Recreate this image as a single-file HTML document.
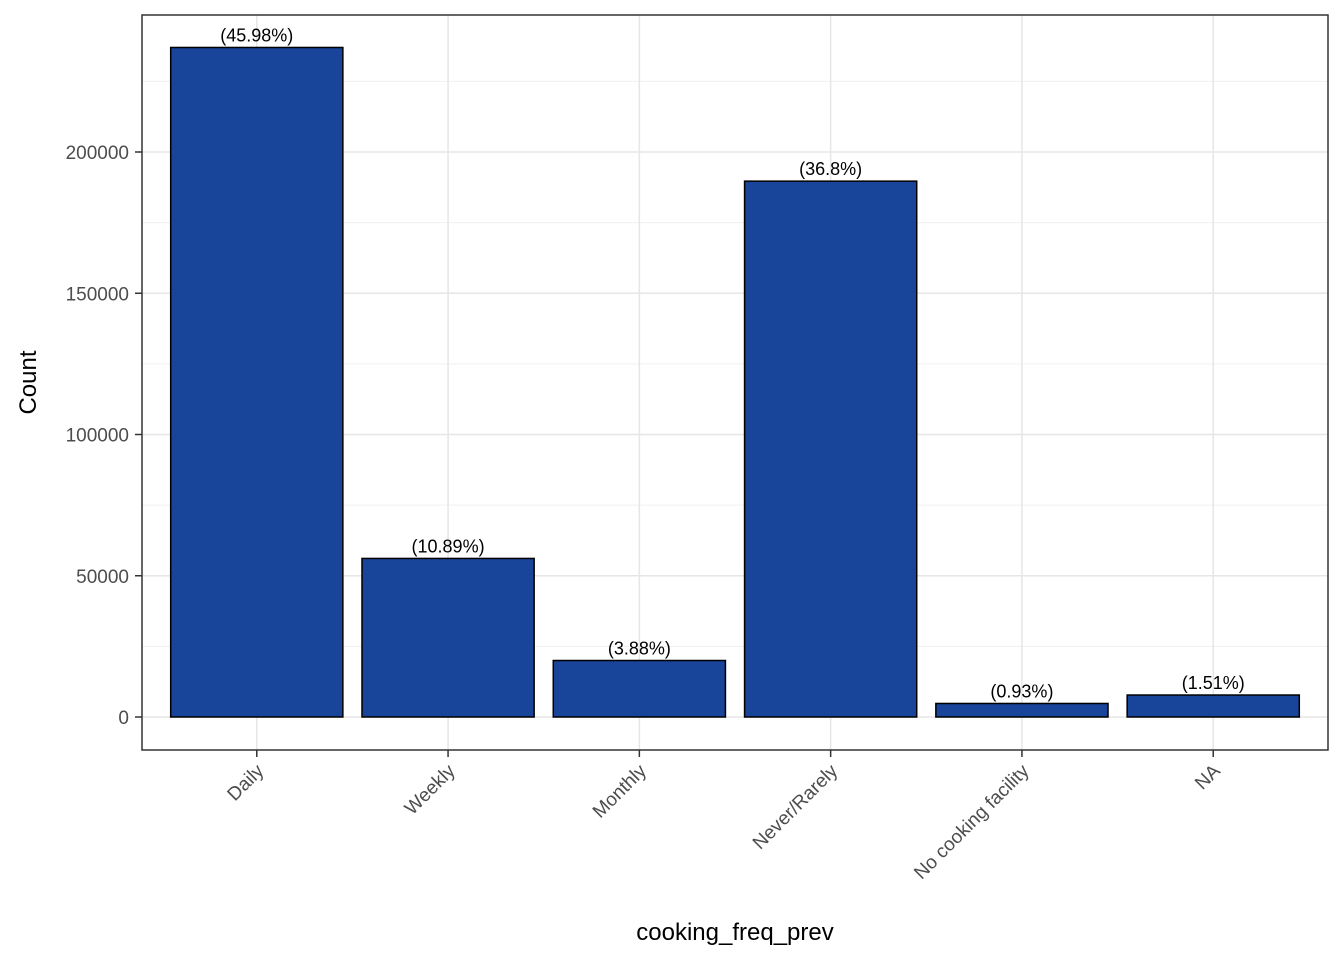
<!DOCTYPE html>
<html><head><meta charset="utf-8"><style>
body{margin:0;background:#fff;}
svg text{font-family:"Liberation Sans",Arial,sans-serif;}
</style></head><body>
<svg id="chart" width="1344" height="960" xmlns="http://www.w3.org/2000/svg"></svg>
<script>
const categories = ["Daily","Weekly","Monthly","Never/Rarely","No cooking facility","NA"];
const counts = [237000, 56130, 20000, 189680, 4790, 7780];
const pctLabels = ["(45.98%)","(10.89%)","(3.88%)","(36.8%)","(0.93%)","(1.51%)"];
const yTicks = [0, 50000, 100000, 150000, 200000];
const yMinor = [25000, 75000, 125000, 175000, 225000];

const NS = "http://www.w3.org/2000/svg";
const svg = document.getElementById("chart");
const P = {l:142, r:1328, t:15, b:750};
const yMin = -11681, yMax = 248496;
const y = v => P.b - (v - yMin) / (yMax - yMin) * (P.b - P.t);
const band = (P.r - P.l) / (categories.length + 0.2);
const xc = i => P.l + band * (0.6 + i);
const bw = band * 0.9;

function mk(tag, attrs, parent){ const e=document.createElementNS(NS,tag); for(const k in attrs) e.setAttribute(k,attrs[k]); (parent||svg).appendChild(e); return e; }

const bg = mk("rect",{x:P.l,y:P.t,width:P.r-P.l,height:P.b-P.t,fill:"#fff"});



yMinor.forEach(v=>{ const l=mk("line",{x1:P.l,x2:P.r,y1:y(v),y2:y(v),stroke:"#f0f0f0","stroke-width":1});

 });
yTicks.forEach(v=>{ const l=mk("line",{x1:P.l,x2:P.r,y1:y(v),y2:y(v),stroke:"#e6e6e6","stroke-width":1.5});

 });
categories.forEach((c,i)=>{ const l=mk("line",{x1:xc(i),x2:xc(i),y1:P.t,y2:P.b,stroke:"#e6e6e6","stroke-width":1.5});

 });

categories.forEach((c,i)=>{
  const r=mk("rect",{x:xc(i)-bw/2,y:y(counts[i]),width:bw,height:y(0)-y(counts[i]),fill:"#184499",stroke:"#000","stroke-width":1.5});
  
  
  const t=mk("text",{x:xc(i),y:y(counts[i])-6,"text-anchor":"middle","font-size":"18",fill:"#000"});
  t.textContent=pctLabels[i];
  
  
  const tk=mk("line",{x1:xc(i),x2:xc(i),y1:P.b,y2:P.b+7,stroke:"#333","stroke-width":1.5});
  
  
  const xl=mk("text",{x:xc(i)+8,y:P.b+22,"text-anchor":"end","font-size":"19",fill:"#4d4d4d",transform:`rotate(-45 ${xc(i)+8} ${P.b+22})`});
  xl.textContent=c;
  
  
});

yTicks.forEach(v=>{
  const tk=mk("line",{x1:P.l-7,x2:P.l,y1:y(v),y2:y(v),stroke:"#333","stroke-width":1.5});
  
  
  const t=mk("text",{x:P.l-13,y:y(v)+7,"text-anchor":"end","font-size":"19",fill:"#4d4d4d"});
  t.textContent=v;
  
  
});

const border=mk("rect",{x:P.l,y:P.t,width:P.r-P.l,height:P.b-P.t,fill:"none",stroke:"#333","stroke-width":1.5});



const xt=mk("text",{x:(P.l+P.r)/2,y:940,"text-anchor":"middle","font-size":"24",fill:"#000"});
xt.textContent="cooking_freq_prev";


const yt=mk("text",{x:36,y:(P.t+P.b)/2,"text-anchor":"middle","font-size":"24",fill:"#000",transform:`rotate(-90 36 ${(P.t+P.b)/2})`});
yt.textContent="Count";


</script>
</body></html>
